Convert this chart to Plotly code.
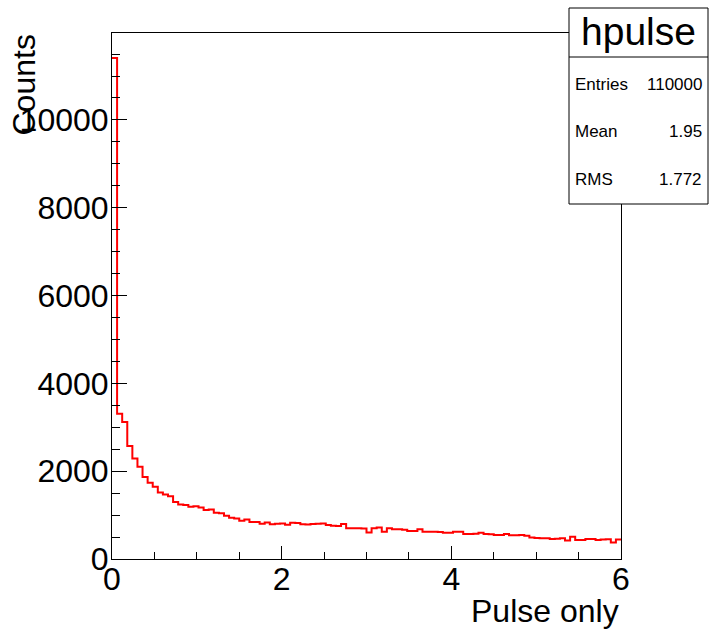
import numpy as np
import plotly.graph_objects as go

# ---- data ----
x_low = 0.0
x_high = 6.0
n_bins = 100
counts = [11410, 3310, 3120, 2575, 2290, 2100, 1870, 1735, 1645, 1515,
          1470, 1430, 1300, 1240, 1230, 1190, 1200, 1175, 1115, 1130,
          1055, 1040, 985, 940, 925, 870, 900, 840, 840, 800,
          830, 790, 800, 810, 780, 825, 820, 790, 785, 795,
          800, 810, 775, 760, 750, 795, 700, 700, 700, 695,
          605, 700, 720, 620, 700, 680, 675, 665, 640, 640,
          680, 620, 620, 620, 615, 600, 598, 620, 620, 570,
          570, 575, 600, 570, 565, 545, 548, 570, 540, 540,
          545, 530, 490, 480, 470, 470, 455, 460, 470, 420,
          505, 435, 435, 455, 455, 430, 445, 450, 375, 445]
hist_name = "hpulse"
stat_labels = ["Entries", "Mean", "RMS"]
stat_values = ["110000", "1.95", "1.772"]
x_title = "Pulse only"
y_title = "Counts"
x_ticks = [0, 2, 4, 6]
y_ticks = [0, 2000, 4000, 6000, 8000, 10000]

edges = np.linspace(x_low, x_high, n_bins + 1)
xs = list(edges[:-1]) + [x_high]
ys = list(counts) + [counts[-1]]

FONT = "Liberation Sans, Arial, Helvetica, sans-serif"
W, H = 712, 631
L, R, T, B = 112, 91, 33, 72
pw, ph = W - L - R, H - T - B

def px(xp):
    return (xp - L) / pw

def py(yp):
    return (H - B - yp) / ph

fig = go.Figure()
fig.add_trace(go.Scatter(x=xs, y=ys, mode="lines", line=dict(color="#ff0000", width=2, shape="hv"),
                         hoverinfo="skip", showlegend=False))

fig.update_layout(
    width=W, height=H,
    margin=dict(l=L, r=R, t=T, b=B, pad=0),
    paper_bgcolor="white", plot_bgcolor="white",
    font=dict(family=FONT, color="black"),
    showlegend=False,
)
fig.update_xaxes(range=[x_low, x_high], showgrid=False, zeroline=False,
                 showline=True, linecolor="black", linewidth=1, mirror=True,
                 ticks="inside", ticklen=13, tickwidth=1, tickcolor="black",
                 tickvals=x_ticks, ticktext=[str(v) for v in x_ticks],
                 ticklabelstandoff=-8,
                 tickfont=dict(size=32, family=FONT, color="black"),
                 minor=dict(ticks="inside", dtick=0.5, tick0=0, ticklen=7, tickwidth=1, tickcolor="black", showgrid=False))
fig.update_yaxes(range=[0, 11980], showgrid=False, zeroline=False,
                 showline=True, linecolor="black", linewidth=1, mirror=True,
                 ticks="inside", ticklen=15, tickwidth=1, tickcolor="black",
                 tickvals=y_ticks, ticktext=[str(v) for v in y_ticks],
                 ticklabelstandoff=-4,
                 tickfont=dict(size=32, family=FONT, color="black"),
                 minor=dict(ticks="inside", dtick=500, tick0=0, ticklen=8, tickwidth=1, tickcolor="black", showgrid=False))

# axis titles (ROOT style: at the end of the axis)
fig.add_annotation(text=x_title, xref="paper", yref="paper", x=1.0, y=py(611),
                   xanchor="right", yanchor="middle", showarrow=False,
                   font=dict(size=32, family=FONT, color="black"))
fig.add_annotation(text=y_title, xref="paper", yref="paper", x=px(23), y=1.0,
                   xanchor="center", yanchor="top", textangle=-90, showarrow=False,
                   font=dict(size=32, family=FONT, color="black"))

# stats box
bx0, bx1, by0, by1, bdiv = 569, 708, 8, 204, 57
fig.add_shape(type="rect", xref="paper", yref="paper", x0=px(bx0), x1=px(bx1), y0=py(by1), y1=py(by0),
              line=dict(color="black", width=1), fillcolor="white", layer="above")
fig.add_shape(type="line", xref="paper", yref="paper", x0=px(bx0), x1=px(bx1), y0=py(bdiv), y1=py(bdiv),
              line=dict(color="black", width=1), layer="above")
fig.add_annotation(text=hist_name, xref="paper", yref="paper", x=px((bx0 + bx1) / 2), y=py(31),
                   xanchor="center", yanchor="middle", showarrow=False,
                   font=dict(size=39, family=FONT, color="black"))
row_y = [84, 131, 179]
for lab, val, yy in zip(stat_labels, stat_values, row_y):
    fig.add_annotation(text=lab, xref="paper", yref="paper", x=px(573), y=py(yy),
                       xanchor="left", yanchor="middle", showarrow=False,
                       font=dict(size=17, family=FONT, color="black"))
    fig.add_annotation(text=val, xref="paper", yref="paper", x=px(704), y=py(yy),
                       xanchor="right", yanchor="middle", showarrow=False,
                       font=dict(size=17, family=FONT, color="black"))

fig.write_html("out.html", config={"displayModeBar": False},
               post_script="document.body.style.margin='0';document.body.style.overflow='hidden';")
